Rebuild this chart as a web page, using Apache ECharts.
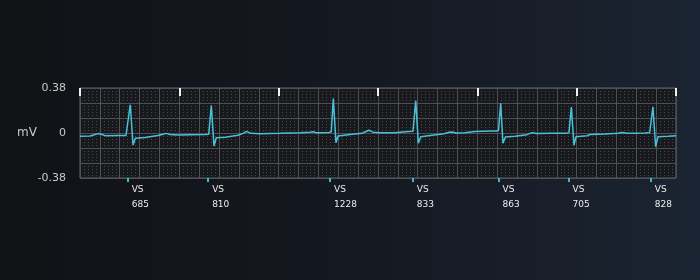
<!DOCTYPE html>
<html>
<head>
<meta charset="utf-8">
<script src="https://cdn.jsdelivr.net/npm/echarts@6/dist/echarts.min.js"></script>
<style>
html,body{margin:0;padding:0;width:700px;height:280px;overflow:hidden;
background:linear-gradient(90deg,#111216 0%,#141820 50%,#1b2432 100%);}
#c{width:700px;height:280px;}
</style>
</head>
<body>
<div id="c"></div>
<script>
// ---- data ----
// ECG trace: [time (s), amplitude (mV)]
const ecgTrace = [
  [0.000,-0.028],[0.101,-0.025],[0.151,-0.013],[0.181,-0.005],[0.221,-0.013],[0.262,-0.024],
  [0.383,-0.022],[0.463,-0.021],[0.483,-0.013],[0.506,0.239],[0.534,-0.101],[0.557,-0.045],
  [0.654,-0.038],[0.785,-0.021],[0.836,-0.010],[0.866,-0.003],[0.906,-0.013],[0.987,-0.017],
  [1.107,-0.014],[1.258,-0.013],[1.296,-0.010],[1.322,0.234],[1.349,-0.110],[1.372,-0.040],
  [1.460,-0.035],[1.591,-0.019],[1.641,-0.003],[1.676,0.014],[1.722,-0.003],[1.812,-0.007],
  [2.013,-0.003],[2.215,0.002],[2.316,0.007],[2.346,0.011],[2.376,0.003],[2.507,0.004],
  [2.530,0.010],[2.550,0.290],[2.577,-0.082],[2.597,-0.025],[2.718,-0.013],[2.839,-0.003],
  [2.879,0.013],[2.909,0.023],[2.950,0.007],[3.020,0.003],[3.171,0.003],[3.302,0.013],
  [3.352,0.015],[3.380,0.273],[3.406,-0.087],[3.430,-0.031],[3.524,-0.021],[3.665,-0.006],
  [3.715,0.007],[3.745,0.008],[3.785,0.000],[3.876,0.003],[3.977,0.013],[4.128,0.017],
  [4.188,0.017],[4.213,0.021],[4.235,0.251],[4.258,-0.087],[4.282,-0.034],[4.379,-0.028],
  [4.500,-0.014],[4.550,0.003],[4.601,-0.004],[4.732,-0.003],[4.893,-0.003],[4.923,0.004],
  [4.946,0.220],[4.973,-0.104],[4.993,-0.031],[5.104,-0.023],[5.134,-0.013],[5.285,-0.008],
  [5.416,-0.003],[5.456,0.004],[5.506,-0.003],[5.688,0.000],[5.735,0.004],[5.768,0.220],
  [5.795,-0.116],[5.819,-0.031],[5.920,-0.028],[6.000,-0.024]
];
// beat markers
const markerTimes = [0.480, 1.290, 2.518, 3.351, 4.214, 4.919, 5.747];
const markerCodes = ['VS','VS','VS','VS','VS','VS','VS'];
const markerIntervals = [685, 810, 1228, 833, 863, 705, 828];
// axis
const secondTicks = [0,1,2,3,4,5,6];
const yTickValues = [-0.38, 0, 0.38];
const yTickLabels = ['-0.38','0','0.38'];
const yUnit = 'mV';

const FONT = 'DejaVu Sans';
const chart = echarts.init(document.getElementById('c'), null, {renderer:'canvas'});

function yLabel(v){
  for (let i=0;i<yTickValues.length;i++){
    if (Math.abs(v - yTickValues[i]) < 1e-4) return yTickLabels[i];
  }
  return '';
}
function markerLabel(v){
  let idx = 0, best = 1e9;
  markerTimes.forEach((t,i)=>{ const d=Math.abs(t-v); if(d<best){best=d;idx=i;} });
  return '{a|' + markerCodes[idx] + '}\n{b|' + markerIntervals[idx] + '}';
}

chart.setOption({
  animation:false,
  backgroundColor:'transparent',
  grid:{left:80, top:88, width:596, height:90, show:true,
        backgroundColor:'#18191c', borderColor:'#62666c', borderWidth:1},
  xAxis:[
    { // main time grid
      type:'value', min:0, max:6, interval:0.2, position:'bottom',
      axisLine:{show:false}, axisTick:{show:false}, axisLabel:{show:false},
      splitLine:{show:true, lineStyle:{color:'#4d5054', width:1}},
      minorTick:{show:false, splitNumber:5},
      minorSplitLine:{show:true, lineStyle:{color:'#46484c', width:1, type:[1,2]}}
    },
    { // one-second marks on top
      type:'value', min:0, max:6, interval:1, position:'top',
      axisLine:{show:false}, axisLabel:{show:false}, splitLine:{show:false},
      axisTick:{show:true, inside:true, length:8, customValues:secondTicks,
                lineStyle:{color:'#f0f0f0', width:2}}
    },
    { // beat markers at the bottom
      type:'value', min:0, max:6, position:'bottom',
      axisLine:{show:false}, splitLine:{show:false},
      axisTick:{show:true, length:4, customValues:markerTimes,
                lineStyle:{color:'#3fb6cf', width:2}},
      axisLabel:{show:true, customValues:markerTimes, margin:4, align:'left',
                 formatter:markerLabel,
                 rich:{
                   a:{fontFamily:FONT, fontSize:9, color:'#ececec', lineHeight:15, padding:[0,0,0,4]},
                   b:{fontFamily:FONT, fontSize:9, color:'#ececec', lineHeight:15, padding:[0,0,0,4]}
                 }}
    }
  ],
  yAxis:{
    type:'value', min:-0.38, max:0.38, interval:0.38/3,
    name:yUnit, nameLocation:'middle', nameRotate:0, nameGap:43, nameMoveOverlap:false,
    nameTextStyle:{fontFamily:FONT, fontSize:12, color:'#c9c9c9', padding:[0,0,6,0]},
    axisLine:{show:false}, axisTick:{show:false},
    axisLabel:{show:true, margin:14, fontFamily:FONT, fontSize:11, color:'#c9c9c9', formatter:yLabel},
    splitLine:{show:true, lineStyle:{color:'#4d5054', width:1}},
    minorTick:{show:false, splitNumber:5},
    minorSplitLine:{show:false}
  },
  series:[{
    type:'line', xAxisIndex:0, yAxisIndex:0, data:ecgTrace,
    showSymbol:false, symbol:'none', smooth:false,
    lineStyle:{color:'#47c1dc', width:1.5},
    z:5
  }]
});
</script>
</body>
</html>
